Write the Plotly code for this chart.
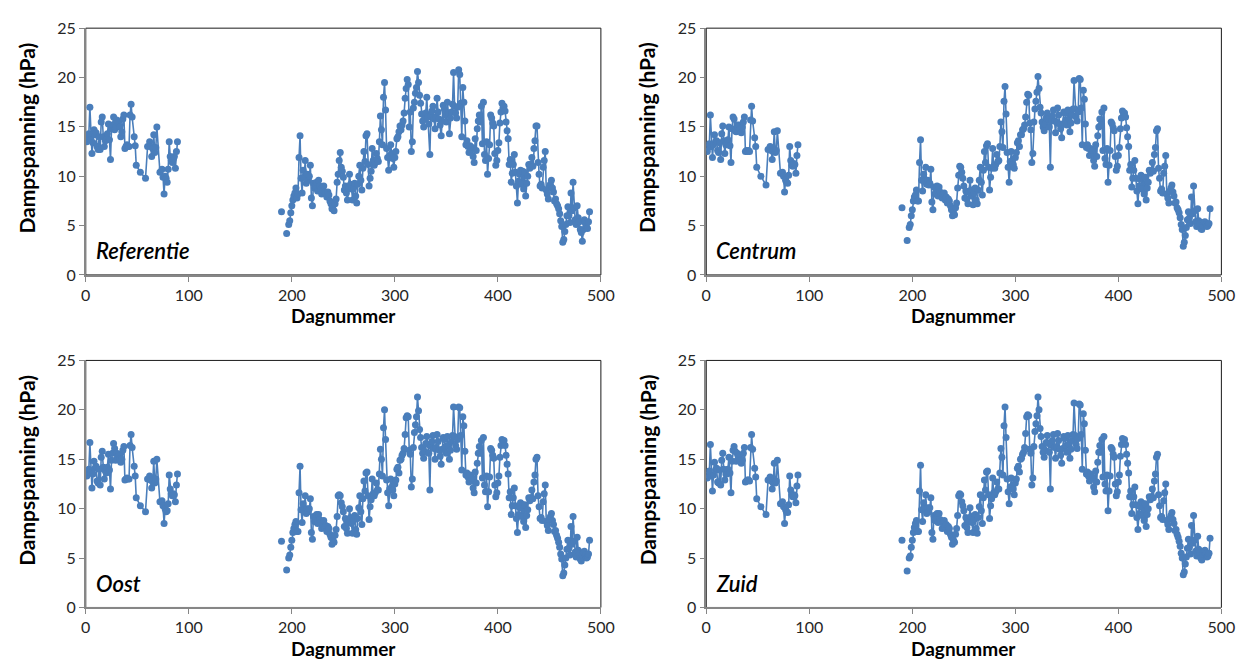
import plotly.graph_objects as go

# ---------------- data ----------------
dagen_voorjaar = list(range(1, 46)) + [47, 48, 49, 53, 58, 60] + list(range(62, 70)) + [72] + list(range(74, 90))
dagen_los = [190, 195]
dagen_najaar = list(range(197, 490))

ref_voorjaar = [13.5, 13.9, 14.3, 17.0, 13.7, 12.3, 13.4, 14.7, 14.2, 14.4,
                13.0, 12.7, 14.0, 12.7, 15.5, 16.0, 14.0, 13.0, 13.6, 13.7,
                14.3, 15.3, 13.7, 11.7, 14.8, 15.2, 16.0, 14.7, 15.0, 15.7,
                15.4, 15.5, 15.0, 14.0, 14.5, 15.8, 16.2, 12.8, 13.0, 13.2,
                13.0, 13.0, 16.2, 17.3, 16.0,
                14.0, 13.1, 11.1, 10.4, 9.8, 13.0,
                13.5, 13.0, 12.0, 12.8, 14.2, 12.4, 12.9, 15.0,
                10.4,
                10.7, 9.9, 8.2, 10.0, 9.8, 9.4, 10.7, 13.5, 12.0, 11.6, 11.4, 11.8, 12.0, 10.8, 12.5, 13.5]
ref_los = [6.4, 4.2]
ref_najaar = [5.1, 5.5, 6.3, 7.0, 7.6, 8.0, 8.3, 8.8, 7.8, 8.2,
              11.9, 14.1, 9.8, 8.3, 10.6, 9.9, 11.6, 9.3, 10.2, 9.6,
              10.0, 11.1, 7.8, 7.0, 9.3, 8.8, 9.0, 9.4, 8.5, 9.6,
              9.0, 8.7, 8.2, 8.6, 9.0, 8.4, 8.3, 7.9, 8.4, 8.1,
              7.5, 7.2, 6.7, 7.0, 6.5, 7.2, 7.7, 9.4, 10.2, 11.6,
              12.4, 10.9, 10.5, 9.9, 8.6, 9.0, 8.3, 7.6, 8.8, 10.2,
              9.2, 8.7, 7.6, 8.8, 9.3, 8.0, 7.3, 9.2, 10.0, 11.1,
              9.6, 8.6, 10.8, 12.5, 11.5, 14.1, 14.3, 11.2, 9.0, 9.8,
              10.5, 12.8, 11.6, 11.1, 11.4, 12.3, 11.8, 11.5, 13.5, 16.1,
              14.7, 13.2, 18.0, 19.5, 16.7, 12.8, 11.9, 10.6, 12.1, 13.2,
              12.3, 11.8, 10.9, 11.9, 12.5, 13.8, 14.0, 14.5, 15.1, 14.7,
              15.2, 15.6, 16.4, 17.9, 18.9, 19.8, 19.3, 15.0, 16.5, 12.5,
              13.5, 16.9, 17.5, 18.4, 19.0, 20.6, 19.5, 18.2, 17.4, 16.3,
              15.6, 15.0, 15.8, 16.4, 18.0, 16.0, 15.3, 12.2, 16.1, 16.6,
              17.1, 15.8, 14.8, 16.0, 17.9, 16.5, 15.8, 15.2, 14.1, 15.6,
              17.2, 16.8, 16.2, 15.5, 17.5, 16.4, 14.3, 15.9, 16.5, 17.3,
              20.5, 17.1, 16.4, 15.9, 17.0, 20.8, 20.3, 17.4, 14.0, 19.0,
              17.5, 15.6, 13.2, 13.6, 13.0, 12.4, 13.1, 12.7, 12.9, 12.0,
              11.4, 13.8, 12.6, 14.8, 15.6, 16.2, 15.5, 17.1, 13.3, 17.5,
              12.2, 11.6, 13.5, 10.2, 11.8, 13.2, 16.2, 15.9, 15.4, 15.1,
              12.3, 11.1, 11.6, 12.6, 13.4, 15.4, 16.5, 17.4, 16.9, 17.1,
              16.6, 15.5, 14.6, 13.8, 11.2, 11.7, 9.4, 10.3, 11.2, 12.2,
              10.4, 9.0, 7.3, 9.5, 10.2, 10.6, 9.2, 10.5, 8.7, 10.4,
              8.0, 9.3, 10.0, 11.2, 10.8, 11.2, 11.9, 11.0, 12.8, 13.6,
              15.1, 15.1, 11.4, 10.2, 9.0, 9.2, 8.8, 10.9, 11.6, 12.5,
              8.6, 8.2, 7.7, 8.9, 9.2, 9.6, 8.8, 8.4, 7.5, 7.7,
              7.2, 7.0, 6.7, 6.2, 5.5, 4.9, 3.3, 3.6, 4.4, 5.1,
              6.0, 6.9, 6.0, 5.3, 8.3, 6.5, 9.4, 6.8, 5.6, 5.1,
              7.0, 5.8, 5.4, 4.6, 4.3, 3.4, 4.6, 5.6, 5.2, 4.9,
              4.7, 5.4, 6.4]

cen_voorjaar = [12.5, 12.9, 13.3, 16.2, 13.0, 11.9, 13.2, 14.2, 13.5, 13.6,
                12.6, 12.4, 13.4, 11.7, 14.3, 15.1, 13.6, 12.3, 13.2, 13.4,
                13.7, 15.0, 13.1, 11.4, 14.8, 16.0, 15.8, 14.6, 14.5, 15.2,
                15.0, 15.2, 14.8, 14.4, 15.0, 15.5, 16.0, 12.5, 12.6, 12.5,
                12.6, 12.5, 15.7, 17.1, 15.6,
                13.9, 13.0, 10.9, 10.0, 9.1, 12.7,
                13.0, 12.6, 11.7, 12.5, 14.5, 12.4, 12.6, 14.6,
                10.3,
                10.4, 10.0, 8.4, 9.6, 9.4, 9.3, 10.1, 13.0, 11.6, 11.1, 11.0, 11.3, 11.2, 10.3, 12.1, 13.2]
cen_los = [6.8, 3.5]
cen_najaar = [4.8, 5.1, 6.0, 6.6, 7.5, 7.9, 8.1, 8.6, 7.5, 7.5,
              11.4, 13.7, 9.6, 8.5, 10.2, 9.5, 10.9, 9.2, 9.6, 9.1,
              9.3, 10.7, 7.4, 6.6, 8.9, 8.2, 8.4, 9.0, 8.0, 8.9,
              8.4, 8.1, 7.8, 8.2, 8.3, 7.6, 7.9, 7.3, 7.7, 7.5,
              7.0, 6.6, 6.0, 6.3, 6.1, 6.8, 7.3, 8.8, 10.1, 11.0,
              10.9, 10.4, 9.8, 9.0, 7.8, 8.5, 7.7, 7.2, 8.4, 9.6,
              8.6, 8.0, 7.1, 8.3, 8.8, 7.6, 7.2, 8.6, 9.6, 10.9,
              9.4, 8.1, 10.6, 12.5, 11.4, 13.1, 13.3, 10.9, 8.6, 9.9,
              10.8, 12.8, 11.0, 10.8, 11.2, 12.2, 11.5, 11.6, 13.0, 15.5,
              14.5, 12.9, 17.6, 19.1, 16.3, 12.4, 10.9, 9.4, 11.5, 12.5,
              11.6, 11.2, 10.8, 11.9, 12.4, 13.4, 13.6, 13.0, 14.2, 14.2,
              14.7, 14.8, 15.2, 16.0, 17.5, 18.3, 18.2, 15.4, 14.7, 11.4,
              12.3, 15.5, 16.8, 17.6, 18.5, 20.1, 18.9, 17.0, 16.4, 15.5,
              15.0, 14.6, 15.3, 15.9, 16.4, 15.8, 15.0, 10.9, 15.6, 16.1,
              16.7, 15.6, 14.4, 15.5, 16.9, 16.2, 15.3, 14.8, 13.9, 15.3,
              16.5, 16.4, 15.7, 15.2, 16.7, 15.8, 14.5, 15.4, 16.2, 16.8,
              19.7, 16.8, 16.0, 15.6, 16.5, 19.9, 19.8, 16.9, 13.2, 18.7,
              17.8, 15.3, 12.9, 13.2, 12.8, 12.1, 12.8, 12.2, 12.6, 11.6,
              11.0, 13.2, 12.0, 14.1, 15.0, 15.8, 15.2, 16.5, 12.6, 16.9,
              11.8, 11.2, 12.8, 9.4, 11.1, 12.6, 15.5, 15.3, 14.9, 14.6,
              12.0, 10.6, 11.0, 12.1, 12.9, 14.8, 15.9, 16.6, 16.2, 16.4,
              16.0, 14.9, 14.0, 13.0, 10.6, 11.2, 8.9, 9.8, 10.6, 11.6,
              9.8, 8.5, 7.2, 9.0, 9.7, 10.1, 8.7, 9.9, 8.2, 9.9,
              7.6, 8.8, 9.4, 10.6, 10.3, 10.6, 11.4, 10.5, 12.2, 12.9,
              14.6, 14.8, 10.8, 9.8, 8.5, 8.7, 8.3, 10.3, 11.0, 12.1,
              8.2, 7.8, 7.3, 8.5, 8.8, 9.1, 8.4, 8.0, 7.3, 7.4,
              6.8, 6.6, 6.3, 5.8, 5.1, 4.6, 2.9, 3.3, 4.0, 4.8,
              5.6, 6.4, 5.8, 5.2, 7.9, 6.2, 9.0, 6.5, 5.4, 4.9,
              6.7, 5.5, 5.2, 4.7, 4.6, 5.0, 5.3, 5.4, 5.1, 4.9,
              5.0, 5.2, 6.7]

oost_voorjaar = [13.3, 13.7, 14.0, 16.7, 13.6, 12.1, 13.5, 14.8, 14.1, 14.3,
                 12.8, 12.6, 14.0, 12.4, 15.2, 15.8, 14.2, 13.0, 13.8, 13.6,
                 14.2, 15.5, 13.9, 12.0, 14.9, 15.6, 16.6, 16.1, 14.9, 15.6,
                 15.3, 15.5, 15.0, 14.7, 15.0, 15.9, 16.3, 12.9, 13.0, 13.1,
                 13.0, 13.0, 16.4, 17.5, 16.2,
                 14.3, 13.3, 11.1, 10.3, 9.7, 13.0,
                 13.3, 12.9, 12.1, 12.7, 14.8, 12.6, 13.0, 15.0,
                 10.7,
                 10.8, 10.3, 8.5, 10.0, 9.7, 9.8, 10.5, 13.4, 12.0, 11.5, 11.3, 11.5, 11.4, 10.7, 12.4, 13.5]
oost_los = [6.7, 3.8]
oost_najaar = [5.0, 5.3, 6.1, 6.8, 7.6, 8.0, 8.4, 8.7, 7.7, 7.7,
               11.6, 14.3, 9.9, 8.6, 10.5, 9.9, 11.3, 9.5, 10.0, 9.7,
               10.0, 11.0, 7.6, 6.9, 9.2, 8.7, 8.9, 9.4, 8.5, 9.4,
               8.9, 8.6, 8.0, 8.4, 8.8, 8.1, 8.3, 7.7, 8.2, 8.0,
               7.4, 7.1, 6.4, 6.8, 6.6, 7.3, 7.9, 9.2, 11.3, 11.4,
               11.3, 10.6, 10.2, 9.7, 8.2, 9.0, 8.0, 7.5, 8.6, 10.0,
               9.1, 8.5, 7.5, 8.8, 9.3, 7.9, 7.4, 9.0, 10.1, 11.3,
               9.7, 8.4, 11.0, 12.8, 11.8, 13.6, 13.7, 11.3, 8.9, 10.2,
               10.9, 13.0, 11.5, 11.3, 11.6, 12.6, 11.9, 11.9, 13.5, 16.0,
               15.0, 13.3, 18.2, 20.0, 17.0, 12.9, 11.6, 10.3, 12.0, 13.0,
               12.2, 11.9, 11.3, 12.5, 12.9, 14.0, 14.2, 13.6, 14.9, 15.0,
               15.4, 15.6, 16.1, 17.5, 19.2, 19.4, 19.3, 15.9, 15.5, 12.2,
               13.0, 16.2, 17.7, 18.5, 19.3, 21.3, 19.9, 18.0, 17.2, 16.2,
               15.6, 15.1, 15.8, 16.6, 17.3, 16.5, 15.6, 11.9, 16.3, 16.8,
               17.4, 16.1, 15.0, 16.2, 17.5, 16.8, 15.9, 15.3, 14.5, 16.0,
               17.2, 17.0, 16.3, 15.6, 17.3, 16.4, 15.0, 15.9, 16.8, 17.4,
               20.3, 17.3, 16.4, 16.0, 17.0, 20.3, 20.2, 17.4, 13.9, 19.3,
               18.4, 15.8, 13.4, 13.6, 13.2, 12.7, 13.4, 12.9, 13.1, 12.1,
               11.6, 13.7, 12.6, 14.6, 15.6, 16.3, 15.6, 16.9, 13.1, 17.2,
               12.4, 11.7, 13.3, 10.2, 11.7, 13.2, 16.1, 15.9, 15.4, 15.1,
               12.4, 11.2, 11.6, 12.6, 13.3, 15.2, 16.4, 17.0, 16.6, 16.9,
               16.4, 15.4, 14.5, 13.5, 11.1, 11.7, 9.4, 10.3, 11.1, 12.1,
               10.3, 9.0, 7.6, 9.4, 10.1, 10.6, 9.2, 10.4, 8.7, 10.4,
               8.1, 9.3, 9.9, 11.1, 10.8, 11.1, 11.9, 11.0, 12.7, 13.4,
               15.0, 15.2, 11.3, 10.2, 9.0, 9.1, 8.8, 10.7, 11.5, 12.4,
               8.7, 8.3, 7.8, 8.9, 9.2, 9.5, 8.8, 8.4, 7.7, 7.8,
               7.3, 7.0, 6.6, 6.1, 5.4, 4.9, 3.2, 3.5, 4.3, 5.0,
               5.9, 6.8, 6.0, 5.3, 8.2, 6.4, 9.2, 6.7, 5.6, 5.1,
               7.1, 5.8, 5.4, 4.9, 4.7, 5.3, 5.6, 5.7, 5.3, 5.0,
               5.1, 5.4, 6.8]

zuid_voorjaar = [13.1, 13.4, 13.8, 16.5, 13.3, 11.8, 13.4, 14.7, 13.9, 14.1,
                 12.7, 12.6, 13.9, 12.4, 14.9, 15.6, 14.0, 12.9, 13.5, 13.5,
                 14.0, 15.2, 13.6, 11.6, 14.8, 15.9, 16.3, 15.8, 14.8, 15.6,
                 15.3, 15.4, 14.9, 14.6, 14.9, 15.6, 16.2, 12.7, 12.8, 12.9,
                 12.9, 12.8, 16.2, 17.5, 16.0,
                 14.1, 13.2, 11.0, 10.2, 9.4, 12.9,
                 13.2, 12.8, 12.0, 12.6, 14.6, 12.6, 12.8, 14.9,
                 10.5,
                 10.7, 10.2, 8.5, 9.9, 9.7, 9.6, 10.4, 13.3, 11.9, 11.4, 11.2, 11.4, 11.3, 10.6, 12.3, 13.4]
zuid_los = [6.8, 3.7]
zuid_najaar = [5.0, 5.2, 6.1, 6.8, 7.6, 8.1, 8.5, 8.8, 7.7, 7.7,
               11.8, 14.4, 9.9, 8.7, 10.6, 10.0, 11.4, 9.5, 10.1, 9.7,
               10.1, 11.1, 7.6, 6.9, 9.3, 8.8, 9.0, 9.5, 8.6, 9.5,
               8.9, 8.7, 8.0, 8.5, 8.8, 8.1, 8.4, 7.7, 8.2, 8.0,
               7.4, 7.1, 6.4, 6.8, 6.6, 7.4, 8.0, 9.3, 11.3, 11.5,
               11.4, 10.7, 10.3, 9.8, 8.3, 9.1, 8.1, 7.6, 8.7, 10.1,
               9.2, 8.6, 7.6, 8.9, 9.4, 8.0, 7.5, 9.1, 10.2, 11.4,
               9.8, 8.5, 11.1, 12.9, 11.9, 13.7, 13.8, 11.4, 9.0, 10.3,
               11.0, 13.1, 11.6, 11.4, 11.7, 12.7, 12.0, 12.0, 13.6, 16.1,
               15.2, 13.4, 18.4, 20.3, 17.2, 13.0, 11.7, 10.5, 12.2, 13.1,
               12.3, 12.0, 11.4, 12.6, 13.0, 14.1, 14.3, 13.7, 15.0, 15.1,
               15.5, 15.7, 16.2, 17.6, 19.3, 19.5, 19.4, 16.0, 15.6, 12.4,
               13.1, 16.3, 17.8, 18.6, 19.4, 21.3, 20.0, 18.1, 17.3, 16.3,
               15.7, 15.2, 15.9, 16.7, 17.4, 16.6, 15.7, 12.0, 16.4, 16.9,
               17.5, 16.2, 15.1, 16.3, 17.6, 16.9, 16.0, 15.4, 14.6, 16.1,
               17.3, 17.1, 16.4, 15.7, 17.4, 16.5, 15.1, 16.0, 16.9, 17.5,
               20.7, 17.4, 16.5, 16.1, 17.1, 20.6, 20.5, 17.5, 14.0, 19.6,
               18.6, 15.9, 13.5, 13.7, 13.3, 12.8, 13.5, 13.0, 13.2, 12.2,
               11.7, 13.8, 12.7, 14.7, 15.7, 16.4, 15.7, 17.0, 13.2, 17.3,
               12.5, 11.8, 13.4, 9.8, 11.8, 13.3, 16.2, 16.0, 15.5, 15.2,
               12.5, 11.3, 11.7, 12.7, 13.4, 15.3, 16.5, 17.1, 16.7, 17.0,
               16.5, 15.5, 14.6, 13.6, 11.2, 11.8, 9.5, 10.4, 11.2, 12.2,
               10.4, 9.1, 7.9, 9.5, 10.2, 10.7, 9.3, 10.5, 8.8, 10.5,
               8.2, 9.4, 10.0, 11.2, 10.9, 11.2, 12.0, 11.1, 12.8, 13.5,
               15.2, 15.5, 11.4, 10.3, 9.1, 9.2, 8.9, 10.8, 11.6, 12.5,
               8.8, 8.4, 7.9, 9.0, 9.3, 9.6, 8.9, 8.5, 7.8, 7.9,
               7.4, 7.1, 6.7, 6.2, 5.5, 5.0, 3.3, 3.6, 4.4, 5.1,
               6.0, 6.9, 6.1, 5.4, 8.3, 6.5, 9.3, 6.8, 5.7, 5.2,
               7.2, 5.9, 5.5, 5.0, 4.8, 5.4, 5.7, 5.8, 5.4, 5.1,
               5.2, 5.5, 7.0]

panelen = ["Referentie", "Centrum", "Oost", "Zuid"]
reeksen = [
    (ref_voorjaar, ref_los, ref_najaar),
    (cen_voorjaar, cen_los, cen_najaar),
    (oost_voorjaar, oost_los, oost_najaar),
    (zuid_voorjaar, zuid_los, zuid_najaar),
]
x_ticks = [0, 100, 200, 300, 400, 500]
y_ticks = [0, 5, 10, 15, 20, 25]
x_titel = "Dagnummer"
y_titel = "Dampspanning (hPa)"

# ---------------- layout ----------------
W, H = 1260, 667
KLEUR = "#4A7EBB"
FONT = "Lato"

# plot areas in pixels: (left, right, top, bottom)
gebieden = [
    (82, 605, 18.7, 272.7),
    (712, 1235, 18.7, 272.7),
    (82, 605, 360.7, 615),
    (712, 1235, 360.7, 615),
]

fig = go.Figure()
annotaties = []
vormen = []

for i, (naam, (vj, los, nj)) in enumerate(zip(panelen, reeksen)):
    n = i + 1
    xa = "x" if n == 1 else f"x{n}"
    ya = "y" if n == 1 else f"y{n}"
    x = dagen_voorjaar + [120] + [dagen_los[0], 192, dagen_los[1], 196] + dagen_najaar
    y = vj + [None] + [los[0], None, los[1], None] + nj
    fig.add_trace(go.Scatter(
        x=x, y=y, mode="lines+markers", xaxis=xa, yaxis=ya,
        line=dict(color=KLEUR, width=1.6),
        marker=dict(color=KLEUR, size=7, line=dict(width=0)),
        connectgaps=False, showlegend=False, hoverinfo="x+y",
    ))
    l, r, t, b = gebieden[i]
    dom_x = [l / W, r / W]
    dom_y = [1 - b / H, 1 - t / H]
    axis_common = dict(
        showgrid=False, zeroline=False, showline=True, linecolor="#868686", linewidth=1.5,
        ticks="outside", ticklen=5, tickcolor="#868686", tickwidth=1.2,
        tickfont=dict(family=FONT, size=16, color="#262626"),
    )
    fig.layout[f"xaxis{'' if n == 1 else n}"] = dict(
        domain=dom_x, range=[0, 500], tickvals=x_ticks, anchor=ya, **axis_common)
    fig.layout[f"yaxis{'' if n == 1 else n}"] = dict(
        domain=dom_y, range=[0, 25], tickvals=y_ticks, anchor=xa, **axis_common)
    # frame (top and right)
    vormen.append(dict(type="rect", xref=f"{xa} domain", yref=f"{ya} domain",
                       x0=0, x1=1, y0=0, y1=1, line=dict(color="#1a1a1a", width=1), layer="below"))
    # panel label
    annotaties.append(dict(text=f"<i>{naam}</i>", xref="paper", yref="paper",
                           x=(l + 8) / W, y=1 - (b - 25) / H, xanchor="left", yanchor="middle",
                           showarrow=False, font=dict(family=FONT, size=22, color="#000000", weight=600)))
    # axis titles
    annotaties.append(dict(text=f"<b>{x_titel}</b>", xref="paper", yref="paper",
                           x=(l + r) / 2 / W, y=1 - (b + 42) / H, xanchor="center", yanchor="middle",
                           showarrow=False, font=dict(family=FONT, size=19, color="#000000")))
    annotaties.append(dict(text=f"<b>{y_titel}</b>", xref="paper", yref="paper",
                           x=(l - 60) / W, y=1 - (t + 113) / H, xanchor="center", yanchor="middle",
                           textangle=-90, showarrow=False,
                           font=dict(family=FONT, size=21, color="#000000")))

fig.update_layout(
    width=W, height=H, margin=dict(l=0, r=0, t=0, b=0),
    paper_bgcolor="white", plot_bgcolor="white",
    annotations=annotaties, shapes=vormen,
    font=dict(family=FONT),
)

fig.write_html("out.html")
